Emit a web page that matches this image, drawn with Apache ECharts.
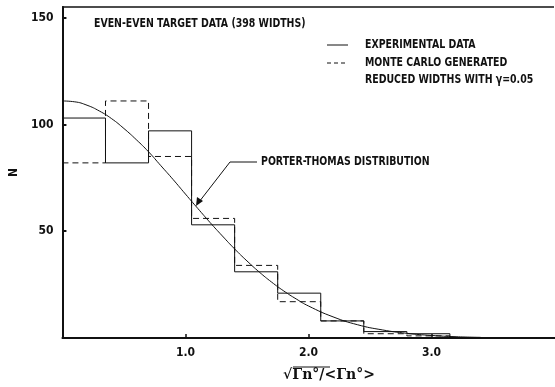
<!DOCTYPE html>
<html>
<head>
<meta charset="utf-8">
<script src="https://cdn.jsdelivr.net/npm/echarts@6/dist/echarts.min.js"></script>
<style>
    html, body { margin: 0; padding: 0; background: #ffffff; }
    #chart { width: 555px; height: 387px; }
</style>
</head>
<body>
<div id="chart"></div>
<script>
// histogram bins, sqrt(Gn0/<Gn0>) edges
const binEdges = [0, 0.35, 0.70, 1.05, 1.40, 1.75, 2.10, 2.45, 2.80, 3.15]
const expCounts = [103, 82, 97, 53, 31, 21, 8, 3, 2]
const mcCounts = [82, 111, 85, 56, 34, 17, 8, 2, 1]

// Porter-Thomas curve
const ptX = [0, 0.1, 0.2, 0.3, 0.4, 0.5, 0.6, 0.7, 0.8, 0.9, 1.0, 1.1, 1.2, 1.3, 1.4, 1.5,
    1.6, 1.7, 1.8, 1.9, 2.0, 2.2, 2.4, 2.6, 2.8, 3.0, 3.2, 3.4]
const ptY = [111, 110.6, 109, 106.3, 102.7, 98.1, 92.9, 87.2, 80.7, 74.2, 67.4, 60.7, 54.1, 47.8, 41.7, 36.1,
    30.9, 26.2, 22, 18.3, 15, 9.9, 6.2, 3.8, 2.2, 1.2, 0.6, 0.3]

const xTicks = [1, 2, 3]
const yTicks = [50, 100, 150]

const FONT = '"DejaVu Sans Condensed", "Liberation Sans", sans-serif'

// step data for histogram outline
const stepData = (counts) => {
    const pts = []
    for (let i = 0; i < counts.length; i++) {
        pts.push([binEdges[i], counts[i]])
    }
    pts.push([binEdges[counts.length], counts[counts.length - 1]])
    pts.push([binEdges[counts.length], 0])
    return pts
}

// squeezed bold text, the scan uses a condensed typeface
const txt = (x, y, text, size) => ({
    type: 'text',
    x: x,
    y: y,
    scaleX: 0.87,
    style: {
        text: text,
        fill: '#111',
        font: 'bold ' + size + 'px ' + FONT,
    },
})

const myChart = echarts.init(document.getElementById('chart'))

const option = {
    backgroundColor: '#ffffff',
    animation: false,
    grid: { left: 62, right: 19, top: 7, bottom: 49, show: false },
    xAxis: {
        type: 'value',
        min: 0,
        max: 3.85,
        interval: 1,
        splitLine: { show: false },
        axisLine: { lineStyle: { color: '#111', width: 2 } },
        axisTick: { inside: true, length: 4, customValues: xTicks, lineStyle: { color: '#111', width: 1.5 } },
        axisLabel: {
            customValues: xTicks,
            formatter: (v) => v.toFixed(1),
            color: '#111',
            fontWeight: 'bold',
            fontSize: 12,
            fontFamily: FONT,
            margin: 9,
        },
    },
    yAxis: {
        type: 'value',
        min: 0,
        max: 155,
        interval: 50,
        splitLine: { show: false },
        axisLine: { show: true, onZero: false, lineStyle: { color: '#111', width: 2 } },
        axisTick: { inside: true, length: 4, customValues: yTicks, lineStyle: { color: '#111', width: 2 } },
        axisLabel: {
            customValues: yTicks,
            color: '#111',
            fontWeight: 'bold',
            fontSize: 12,
            fontFamily: FONT,
            margin: 9,
        },
        name: 'N',
        nameLocation: 'middle',
        nameRotate: 90,
        nameGap: 42,
        nameTextStyle: { color: '#111', fontWeight: 'bold', fontSize: 12, fontFamily: FONT },
    },
    series: [
        {
            name: 'EXPERIMENTAL DATA',
            type: 'line',
            step: 'end',
            symbol: 'none',
            data: stepData(expCounts),
            lineStyle: { color: '#111', width: 1 },
        },
        {
            name: 'MONTE CARLO',
            type: 'line',
            step: 'end',
            symbol: 'none',
            data: stepData(mcCounts),
            lineStyle: { color: '#111', width: 1, type: [6, 4] },
        },
        {
            name: 'PORTER-THOMAS',
            type: 'line',
            smooth: true,
            symbol: 'none',
            data: ptX.map((x, i) => [x, ptY[i]]),
            lineStyle: { color: '#111', width: 1 },
        },
    ],
    graphic: [
        // frame: top line and the run of the bottom axis to the edge
        { type: 'line', shape: { x1: 62, y1: 7, x2: 554, y2: 7 }, style: { stroke: '#111', lineWidth: 1.5 } },
        { type: 'line', shape: { x1: 530, y1: 338, x2: 555, y2: 338 }, style: { stroke: '#111', lineWidth: 2 } },
        txt(94, 18, 'EVEN-EVEN TARGET DATA (398 WIDTHS)', 12),
        // legend
        { type: 'line', shape: { x1: 327, y1: 45, x2: 348, y2: 45 }, style: { stroke: '#111', lineWidth: 1 } },
        { type: 'line', shape: { x1: 327, y1: 63, x2: 348, y2: 63 }, style: { stroke: '#111', lineWidth: 1, lineDash: [4, 3] } },
        txt(365, 39, 'EXPERIMENTAL DATA', 12),
        txt(365, 57, 'MONTE CARLO GENERATED', 12),
        txt(365, 74, 'REDUCED WIDTHS WITH γ=0.05', 12),
        // Porter-Thomas annotation
        { type: 'polyline', shape: { points: [[257, 162], [230, 162], [199, 202]] }, style: { stroke: '#111', lineWidth: 1, fill: null } },
        { type: 'polygon', shape: { points: [[196, 206], [197, 197], [203, 201]] }, style: { fill: '#111' } },
        txt(261, 156, 'PORTER-THOMAS DISTRIBUTION', 12),
        // x axis title
        {
            type: 'text', x: 283, y: 368,
            style: { text: '√Γn°/<Γn°>', fill: '#111', font: 'bold 14px "DejaVu Serif", "Liberation Serif", serif' },
        },
        { type: 'line', shape: { x1: 293, y1: 367, x2: 330, y2: 367 }, style: { stroke: '#111', lineWidth: 1 } },
    ],
}

myChart.setOption(option)
</script>
</body>
</html>
